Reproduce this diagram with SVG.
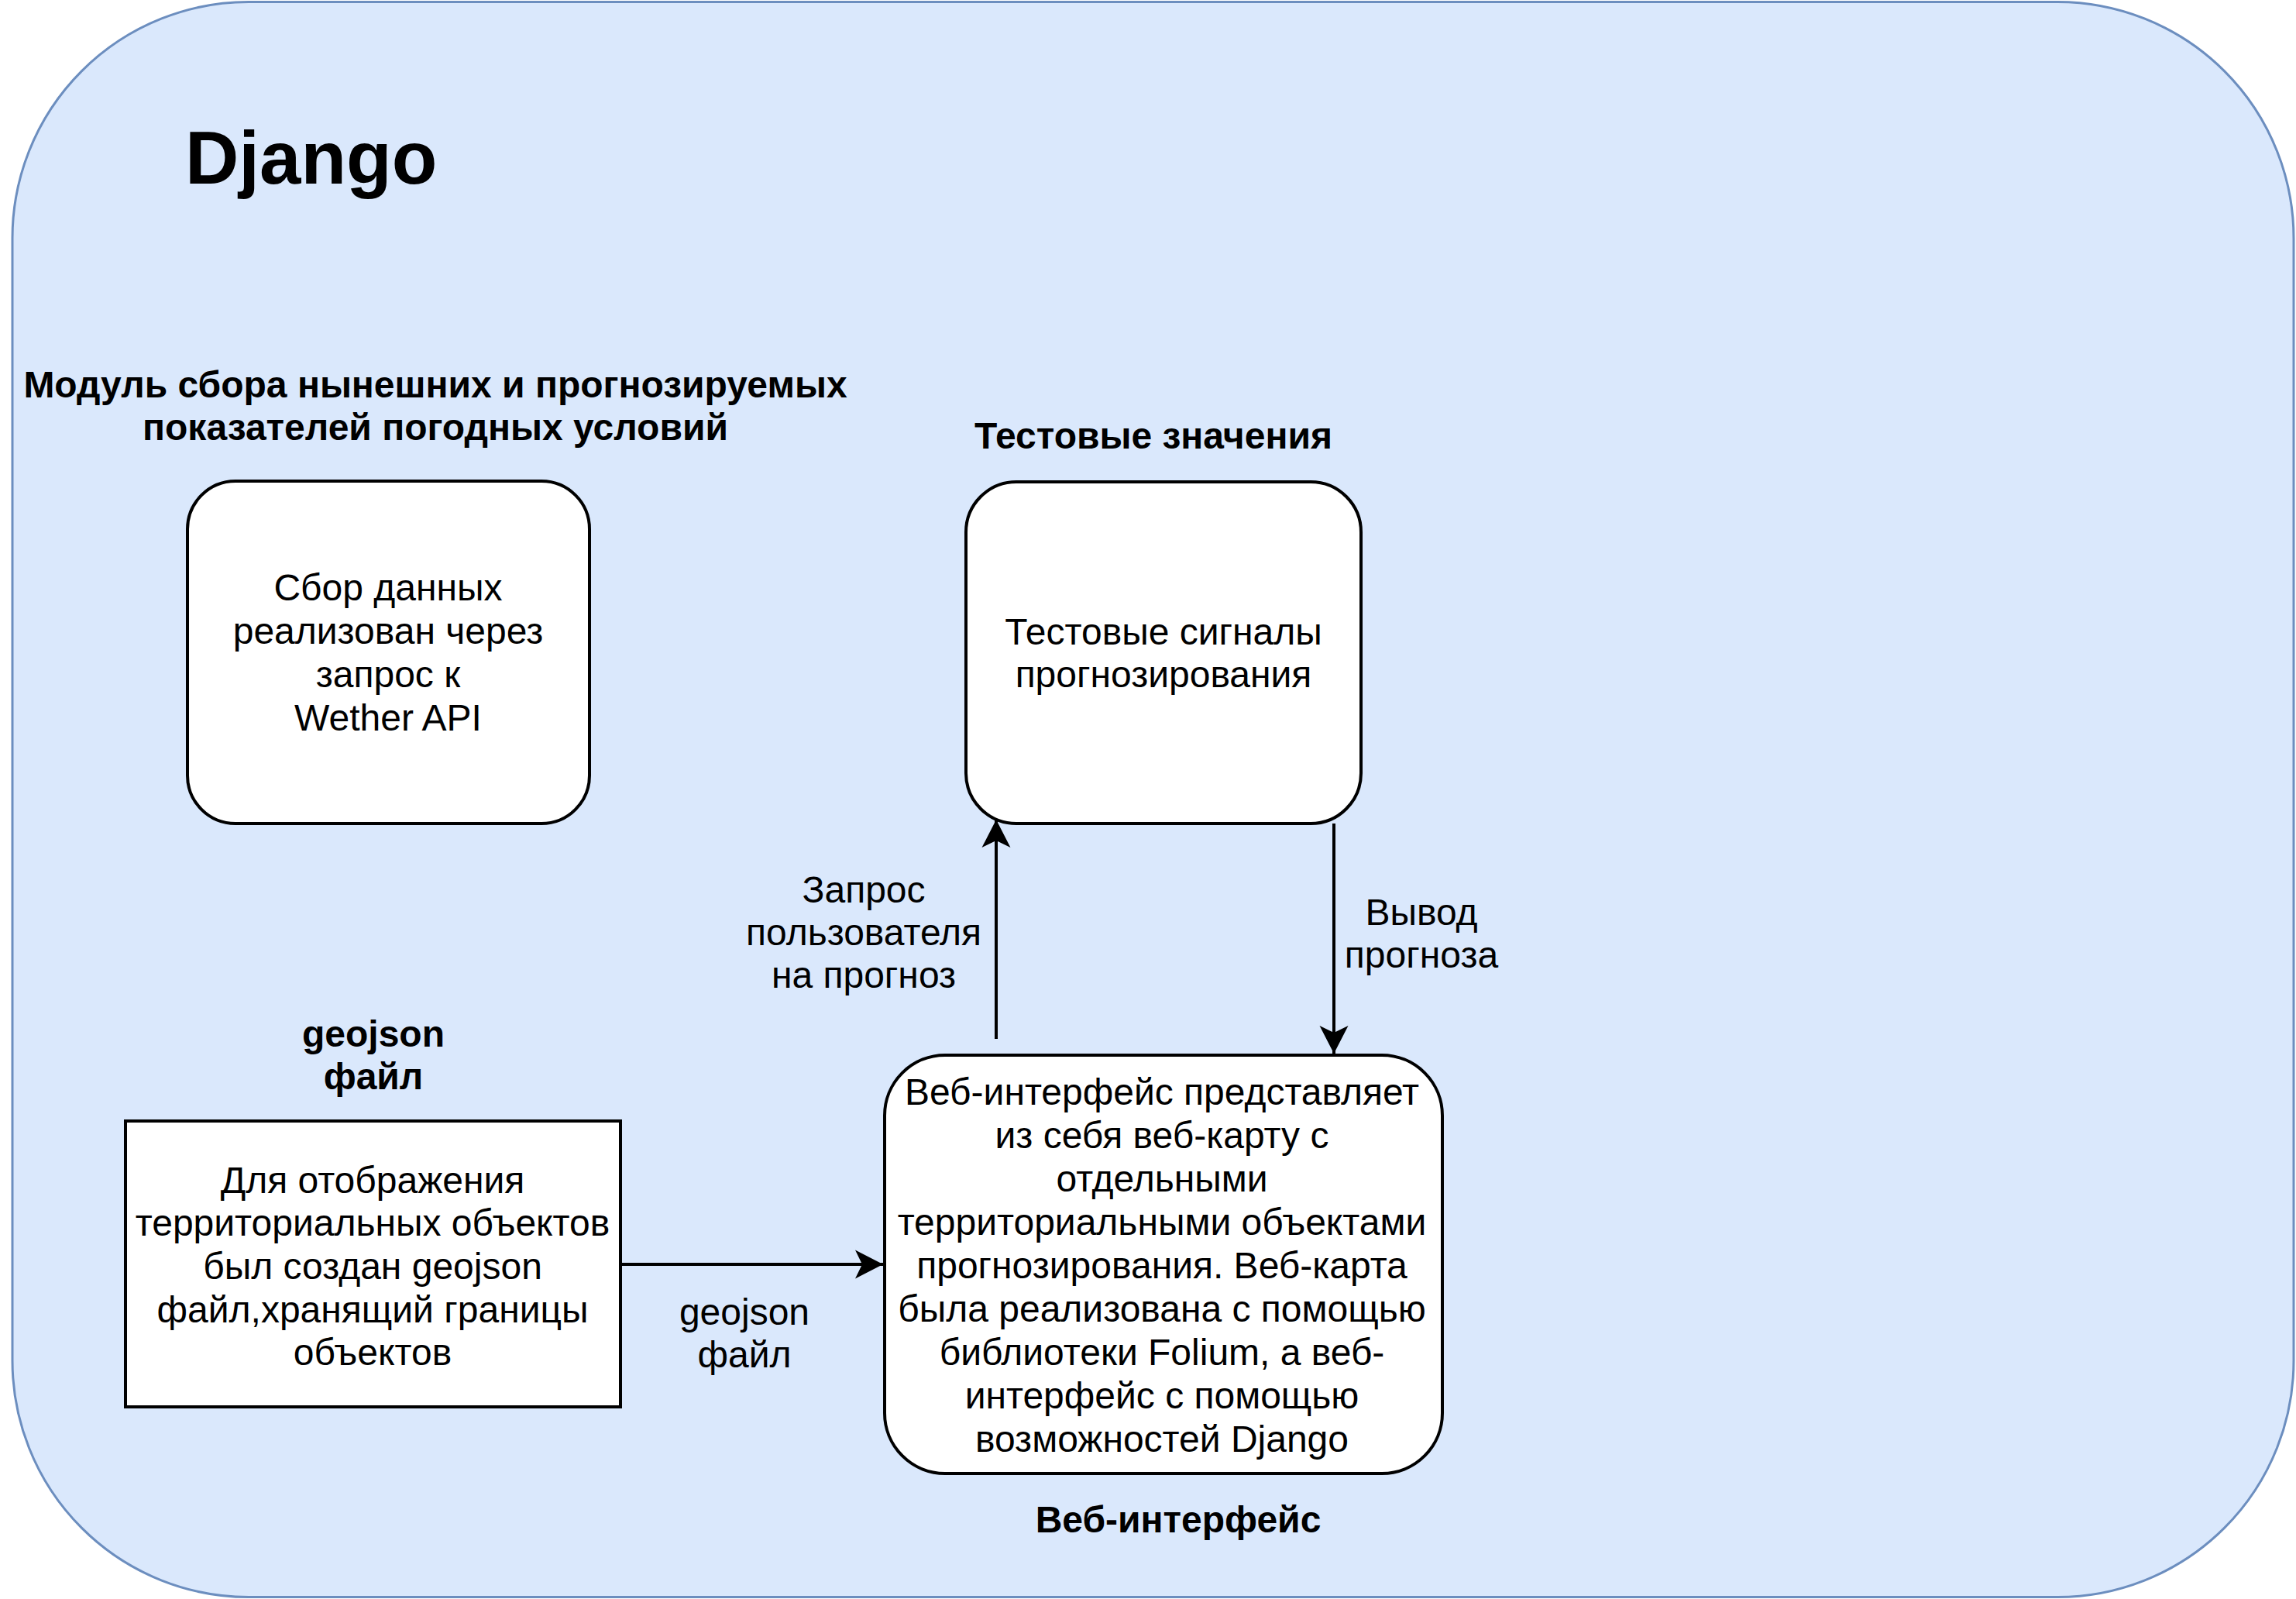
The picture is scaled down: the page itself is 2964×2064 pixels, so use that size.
<svg xmlns="http://www.w3.org/2000/svg" width="2964" height="2064" viewBox="0 0 2964 2064">
<defs>
<style>
.t{font-family:"Liberation Sans",Arial,sans-serif;font-size:48px;fill:#000;text-anchor:middle}
.b{font-weight:bold}
.box{fill:#fff;stroke:#000;stroke-width:4}
.edge{stroke:#000;stroke-width:4;fill:none}
</style>
<marker id="arr" markerUnits="userSpaceOnUse" markerWidth="40" markerHeight="40" viewBox="-38 -20 40 40" refX="0" refY="0" orient="auto">
<path d="M0,0 L-36,-18.5 L-27,0 L-36,18.5 Z" fill="#000"/>
</marker>
</defs>
<rect width="2964" height="2064" fill="#fff"/>
<g id="container">
<rect x="16" y="2.5" width="2945" height="2059" rx="305" ry="305" fill="#dae8fc" stroke="#6c8ebf" stroke-width="3"/>
<text x="239" y="237" class="t b" style="font-size:96px;text-anchor:start">Django</text>
</g>
<g id="node-weather">
<text class="t b"><tspan x="562" y="513">Модуль сбора нынешних и прогнозируемых</tspan><tspan x="562" y="568">показателей погодных условий</tspan></text>
<rect class="box" x="242" y="621" width="519" height="442" rx="62" ry="62"/>
<text class="t"><tspan x="501" y="775">Сбор данных</tspan><tspan x="501" y="831">реализован через</tspan><tspan x="501" y="887">запрос к</tspan><tspan x="501" y="943">Wether API</tspan></text>
</g>
<g id="node-test">
<text x="1489" y="579" class="t b">Тестовые значения</text>
<rect class="box" x="1247" y="622" width="510" height="441" rx="65" ry="65"/>
<text class="t"><tspan x="1502" y="832">Тестовые сигналы</tspan><tspan x="1502" y="887">прогнозирования</tspan></text>
</g>
<g id="node-geojson">
<text class="t b"><tspan x="482" y="1351">geojson</tspan><tspan x="482" y="1406">файл</tspan></text>
<rect class="box" x="162" y="1447" width="639" height="369"/>
<text class="t"><tspan x="481" y="1540">Для отображения</tspan><tspan x="481" y="1595">территориальных объектов</tspan><tspan x="481" y="1651">был создан geojson</tspan><tspan x="481" y="1707">файл,хранящий границы</tspan><tspan x="481" y="1762">объектов</tspan></text>
</g>
<g id="node-web">
<rect class="box" x="1142" y="1362" width="720" height="540" rx="78" ry="78"/>
<text class="t"><tspan x="1500" y="1426">Веб-интерфейс представляет</tspan><tspan x="1500" y="1482">из себя веб-карту с</tspan><tspan x="1500" y="1538">отдельными</tspan><tspan x="1500" y="1594">территориальными объектами</tspan><tspan x="1500" y="1650">прогнозирования. Веб-карта</tspan><tspan x="1500" y="1706">была реализована с помощью</tspan><tspan x="1500" y="1762">библиотеки Folium, а веб-</tspan><tspan x="1500" y="1818">интерфейс с помощью</tspan><tspan x="1500" y="1874">возможностей Django</tspan></text>
<text x="1521" y="1978" class="t b">Веб-интерфейс</text>
</g>
<g id="connectors">
<path class="edge" d="M1286,1341 L1286,1058" marker-end="url(#arr)"/>
<path class="edge" d="M1722,1063 L1722,1360" marker-end="url(#arr)"/>
<path class="edge" d="M801,1632 L1140,1632" marker-end="url(#arr)"/>
<text class="t"><tspan x="1115" y="1165">Запрос</tspan><tspan x="1115" y="1220">пользователя</tspan><tspan x="1115" y="1275">на прогноз</tspan></text>
<text class="t"><tspan x="1835" y="1194">Вывод</tspan><tspan x="1835" y="1249">прогноза</tspan></text>
<text class="t"><tspan x="961" y="1710">geojson</tspan><tspan x="961" y="1765">файл</tspan></text>
</g>
</svg>
